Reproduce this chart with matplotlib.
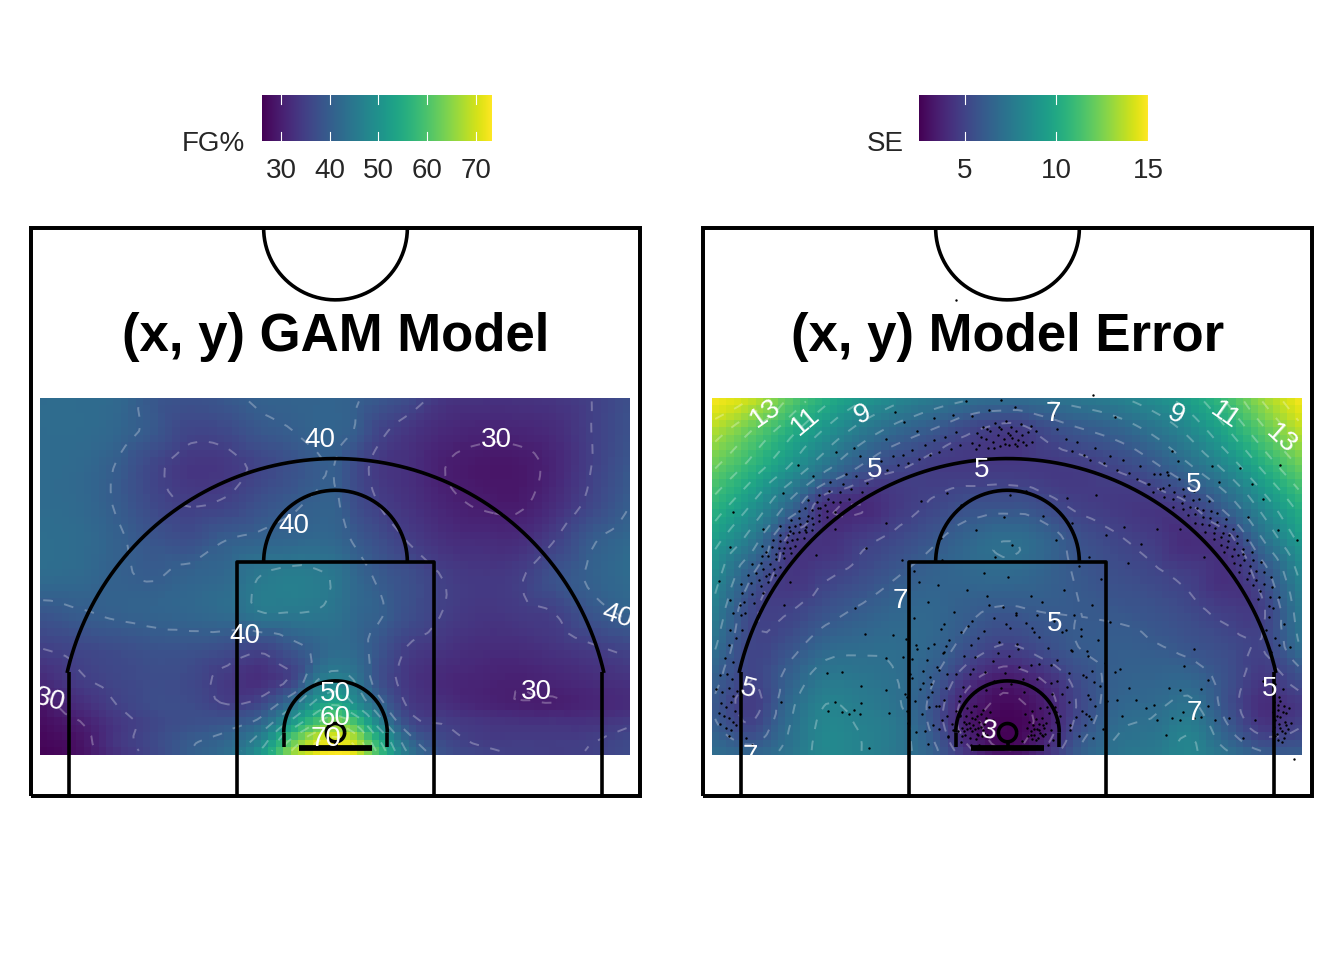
import matplotlib
matplotlib.use("Agg")
import matplotlib.pyplot as plt
import matplotlib.tri as mtri
import numpy as np

plt.rcParams['font.family'] = ['Liberation Sans', 'DejaVu Sans']

# grid nodes (feet, hoop at x = 0)
x_nodes = [-24.3, -21, -18, -15, -12, -9, -6, -3.5, -1.5, 0, 1.5, 3.5, 6, 9, 12, 15, 18, 21, 24.2]
y_nodes = [3.4, 4.5, 6, 7.5, 9.5, 12, 15, 18, 21, 24, 27, 30, 32.7]

# rows run from the baseline up
fg_pct = [
    [26.2, 28.0, 32.5, 36.0, 40.0, 43.0, 52.0, 67.0, 72.0, 73.3, 72.0, 60.0, 45.0, 38.0, 36.0, 35.0, 34.5, 35.2, 37.0],
    [26.8, 28.5, 33.5, 36.5, 39.5, 41.5, 48.0, 62.0, 70.0, 71.5, 69.0, 56.0, 42.0, 36.5, 34.5, 34.5, 34.5, 34.9, 36.5],
    [27.5, 29.8, 33.5, 36.0, 37.5, 38.5, 42.0, 52.0, 60.0, 64.0, 60.0, 48.0, 37.0, 34.8, 33.5, 33.0, 33.0, 33.0, 34.5],
    [28.5, 32.0, 35.0, 37.0, 37.0, 35.0, 37.0, 44.0, 52.0, 55.0, 50.0, 42.0, 34.5, 32.5, 31.0, 30.2, 30.0, 31.0, 32.0],
    [31.5, 34.5, 36.0, 37.0, 36.5, 34.0, 32.5, 36.0, 45.0, 47.0, 45.0, 38.0, 33.5, 31.5, 30.8, 30.3, 31.0, 32.0, 33.0],
    [34.8, 36.0, 37.0, 38.0, 38.0, 37.0, 35.5, 38.5, 41.0, 42.5, 42.0, 38.5, 34.6, 33.0, 32.0, 32.0, 33.0, 34.3, 35.8],
    [38.5, 39.7, 40.5, 41.0, 41.5, 42.5, 45.0, 45.0, 44.8, 44.0, 42.0, 40.5, 37.5, 34.8, 33.5, 34.0, 35.0, 38.5, 40.8],
    [42.5, 42.0, 40.5, 39.8, 41.0, 42.0, 45.2, 46.0, 45.5, 44.5, 42.0, 39.5, 37.5, 34.8, 33.8, 34.6, 38.0, 40.5, 42.5],
    [43.0, 42.5, 40.6, 38.5, 37.5, 40.0, 41.0, 41.5, 42.0, 41.5, 39.7, 37.5, 34.8, 32.5, 32.0, 32.0, 35.0, 39.5, 42.0],
    [42.5, 42.0, 39.7, 36.5, 34.8, 35.5, 38.0, 39.5, 40.5, 40.5, 37.5, 35.0, 33.0, 30.8, 29.7, 29.5, 32.0, 36.0, 40.0],
    [42.5, 42.0, 39.8, 36.0, 33.5, 33.8, 36.0, 38.0, 39.5, 40.0, 37.0, 34.0, 32.5, 30.0, 29.0, 29.0, 31.0, 35.0, 39.0],
    [42.5, 42.5, 41.5, 39.0, 36.0, 36.5, 39.0, 40.0, 41.0, 41.0, 40.0, 36.0, 33.5, 31.5, 30.8, 31.0, 32.0, 35.0, 38.0],
    [42.5, 42.5, 42.0, 39.0, 38.0, 39.0, 40.8, 41.0, 41.0, 41.0, 40.5, 39.0, 37.0, 33.5, 33.0, 33.0, 33.5, 35.0, 37.5],
]

se_vals = [
    [7.0, 6.6, 7.3, 8.3, 8.0, 7.4, 6.3, 4.6, 3.5, 3.2, 3.5, 4.6, 6.3, 7.3, 7.6, 8.2, 7.2, 6.2, 6.2],
    [6.7, 5.8, 7.1, 8.3, 8.0, 7.4, 6.0, 4.0, 3.0, 2.6, 3.0, 4.0, 5.9, 7.1, 7.4, 8.1, 6.6, 5.3, 5.5],
    [6.2, 5.0, 6.9, 8.2, 7.9, 7.4, 5.6, 3.5, 2.8, 2.6, 2.8, 3.6, 5.4, 6.8, 7.1, 7.7, 6.0, 4.4, 4.9],
    [6.0, 4.7, 6.7, 8.0, 7.7, 7.1, 5.6, 3.7, 3.0, 2.8, 3.0, 3.7, 5.2, 6.5, 6.8, 7.2, 5.6, 4.1, 4.6],
    [6.4, 5.0, 6.3, 7.5, 7.4, 7.0, 6.0, 4.4, 3.6, 3.3, 3.6, 4.2, 5.4, 6.3, 6.5, 6.6, 5.6, 4.5, 5.5],
    [7.2, 5.1, 5.7, 6.7, 6.9, 6.9, 6.5, 5.6, 5.0, 4.8, 5.0, 5.5, 6.0, 6.2, 6.1, 5.8, 5.4, 5.0, 7.0],
    [7.9, 5.2, 5.0, 5.7, 6.2, 6.6, 6.6, 6.2, 5.9, 5.8, 5.9, 6.0, 6.0, 5.9, 5.7, 5.3, 4.8, 4.9, 7.6],
    [8.6, 6.0, 4.5, 4.9, 5.4, 6.0, 6.4, 6.6, 6.7, 6.7, 6.6, 6.3, 5.9, 5.5, 5.2, 4.8, 4.2, 5.5, 8.3],
    [9.5, 7.5, 4.8, 4.3, 4.8, 5.3, 5.9, 6.5, 6.9, 7.0, 6.9, 6.4, 5.6, 5.1, 4.7, 4.1, 4.6, 7.0, 9.4],
    [10.8, 9.0, 6.9, 4.4, 4.0, 4.6, 5.1, 5.5, 5.6, 5.6, 5.6, 5.2, 4.8, 4.6, 4.5, 5.0, 6.5, 8.5, 10.6],
    [12.2, 10.6, 9.0, 7.3, 5.9, 5.1, 4.7, 4.6, 4.6, 4.6, 4.6, 4.6, 4.7, 5.1, 5.8, 6.9, 8.3, 10.2, 12.2],
    [13.6, 12.0, 10.4, 8.9, 7.6, 6.6, 5.9, 5.2, 4.8, 4.6, 4.8, 5.4, 5.9, 6.4, 7.2, 8.3, 9.9, 11.8, 13.8],
    [15.0, 14.0, 12.0, 10.4, 9.2, 8.3, 7.6, 7.2, 7.0, 7.0, 7.0, 7.2, 7.5, 7.9, 8.6, 9.6, 11.2, 13.2, 15.0],
]

fg_ticks = [30, 40, 50, 60, 70]
fg_range = [26.1, 73.3]
se_ticks = [5, 10, 15]
se_range = [2.5, 15.0]
fg_levels = [30, 35, 40, 45, 50, 55, 60, 65, 70]
se_levels = [3, 4, 5, 6, 7, 8, 9, 10, 11, 12, 13, 14]

# contour labels: text, x, y, rotation
fg_labels = [
    ("40", -1.3, 29.2, 0), ("30", 13.2, 29.2, 0), ("40", -3.4, 22.2, 0), ("40", -7.4, 13.1, 0),
    ("40", 23.1, 14.8, -18), ("30", 16.5, 8.5, 0), ("30", -23.5, 7.9, -15),
    ("50", 0, 8.4, 0), ("60", 0, 6.4, 0), ("70", -0.8, 4.7, 0),
]
se_labels = [
    ("13", -19.9, 31.4, 35), ("11", -16.6, 30.8, 40), ("9", -11.9, 31.3, 25), ("7", 3.8, 31.4, 0),
    ("9", 13.8, 31.3, -25), ("11", 17.8, 31.2, -35), ("13", 22.5, 29.3, -42),
    ("5", -10.9, 26.8, 0), ("5", -2.1, 26.8, 0), ("5", 15.3, 25.5, 0), ("7", -8.8, 16.0, 0),
    ("5", 3.9, 14.1, 0), ("5", -21.3, 8.8, -15), ("5", 21.5, 8.8, 0), ("7", 15.3, 6.8, 0),
    ("3", -1.5, 5.3, -10), ("7", -21.1, 3.2, 0),
]

# made shots in the right panel, by zone
# wings and the cloud round the rim as (distance from hoop, angle in degrees)
wing_left = [(23.6, 119.2), (24.5, 120.4), (23.2, 121.1), (25.1, 121.9), (23.9, 122.6), (24.6, 123.4), (23.3, 124.0), (24.2, 124.7), (25.3, 125.1), (23.5, 125.8),
    (24.7, 126.3), (23.8, 126.9), (24.3, 127.4), (23.1, 127.8), (25.0, 128.2), (24.0, 128.6), (23.5, 129.0), (24.6, 129.4), (23.2, 129.8), (24.2, 130.1),
    (25.2, 130.5), (23.7, 130.8), (24.4, 131.2), (23.3, 131.5), (24.9, 131.8), (23.9, 132.1), (24.3, 132.5), (23.5, 132.8), (25.1, 133.1), (24.0, 133.4),
    (23.2, 133.7), (24.6, 134.0), (23.7, 134.3), (24.2, 134.7), (23.4, 135.0), (25.0, 135.3), (24.4, 135.6), (23.8, 135.9), (23.2, 136.2), (24.7, 136.5),
    (24.1, 136.9), (23.5, 137.2), (25.3, 137.5), (24.3, 137.8), (23.8, 138.1), (23.3, 138.5), (24.8, 138.8), (24.0, 139.1), (23.5, 139.5), (24.5, 139.8),
    (23.2, 140.1), (25.0, 140.5), (24.2, 140.8), (23.7, 141.1), (24.7, 141.5), (23.4, 141.8), (24.1, 142.2), (25.4, 142.6), (23.8, 142.9), (24.5, 143.3),
    (23.2, 143.7), (24.9, 144.0), (24.0, 144.4), (23.5, 144.8), (24.6, 145.2), (23.1, 145.6), (24.2, 146.0), (25.2, 146.4), (23.7, 146.8), (24.5, 147.3),
    (23.3, 147.7), (24.0, 148.2), (25.0, 148.6), (23.6, 149.1), (24.4, 149.6), (23.2, 150.1), (25.1, 150.7), (23.9, 151.3), (24.7, 152.0), (23.4, 152.7),
    (24.2, 153.5), (25.3, 154.3), (23.7, 155.2), (24.6, 156.2), (24.1, 129.7), (23.6, 134.9), (24.4, 137.0), (23.9, 140.3), (24.8, 143.0), (23.6, 146.2),
    (26.5, 127.0), (27.0, 133.0), (26.2, 140.0), (27.5, 146.0), (26.8, 152.0), (22.0, 130.0), (21.5, 137.0), (21.8, 145.0), (21.2, 150.0), (28.0, 128.0), (29.0, 141.0)]
wing_right = [(23.6, 60.5), (24.7, 59.6), (23.2, 58.9), (25.0, 58.2), (23.9, 57.6), (24.4, 57.0), (23.3, 56.5), (25.2, 56.0), (24.1, 55.4), (23.6, 54.9),
    (24.7, 54.4), (23.1, 53.9), (24.3, 53.4), (23.8, 52.9), (25.1, 52.5), (23.4, 52.0), (24.5, 51.6), (23.9, 51.2), (24.9, 50.8), (23.3, 50.4),
    (24.2, 50.0), (23.7, 49.6), (25.3, 49.2), (24.4, 48.8), (23.2, 48.4), (24.0, 48.0), (24.8, 47.6), (23.5, 47.2), (24.3, 46.8), (25.0, 46.4),
    (23.8, 46.1), (23.2, 45.7), (24.5, 45.3), (24.0, 44.9), (25.2, 44.5), (23.6, 44.2), (24.7, 43.8), (23.3, 43.4), (24.2, 43.0), (23.8, 42.7),
    (25.0, 42.3), (24.4, 41.9), (23.4, 41.5), (24.1, 41.2), (24.9, 40.8), (23.7, 40.4), (23.2, 40.0), (24.5, 39.7), (24.0, 39.3), (25.3, 38.9),
    (23.5, 38.5), (24.6, 38.2), (23.9, 37.8), (24.3, 37.4), (23.3, 37.0), (25.0, 36.6), (24.1, 36.3), (23.6, 35.9), (24.7, 35.4), (23.2, 35.0),
    (24.2, 34.6), (25.1, 34.1), (23.8, 33.7), (24.4, 33.2), (23.4, 32.8), (24.9, 32.3), (24.0, 31.8), (23.6, 31.3), (25.2, 30.8), (24.4, 30.2),
    (23.8, 29.6), (24.8, 29.0), (23.4, 28.3), (24.3, 27.6), (25.0, 26.8), (23.9, 26.0), (26.4, 58.0), (27.0, 50.0), (26.6, 42.0), (27.8, 37.0), (22.0, 50.0), (21.7, 42.0)]
rim_cloud = [(5.2, 8), (6.6, 14), (4.6, 19), (7.4, 23), (5.7, 27), (8.3, 31), (3.9, 34), (6.2, 38), (4.9, 42), (7.1, 45), (5.5, 49), (8.6, 52), (4.3, 55), (6.7, 58),
    (5.1, 62), (7.8, 65), (3.7, 68), (6.0, 71), (4.7, 74), (8.9, 77), (5.6, 80), (7.0, 83), (4.1, 86), (6.4, 89), (5.0, 92), (7.6, 95), (3.8, 98), (6.1, 101),
    (4.5, 104), (8.2, 107), (5.4, 110), (6.9, 113), (4.0, 116), (7.3, 119), (5.8, 122), (8.8, 125), (4.4, 128), (6.5, 131), (5.3, 134), (7.7, 137), (3.6, 140),
    (6.3, 143), (4.8, 146), (8.1, 149), (5.9, 152), (7.2, 155), (4.2, 158), (6.8, 161), (5.2, 164), (8.5, 167), (4.6, 170), (6.2, 173), (5.6, 176), (7.5, 179),
    (4.9, 183), (6.6, 187), (7.0, 10), (4.4, 24), (8.0, 36), (5.9, 47), (7.3, 56), (6.3, 66), (8.4, 72), (7.4, 84), (9.0, 91), (6.7, 97), (8.7, 103), (7.9, 112),
    (6.0, 118), (8.5, 128), (7.0, 135), (5.0, 141), (7.5, 147), (6.1, 158), (8.8, 160), (4.5, 176), (5.5, 36), (9.2, 44), (9.5, 62), (9.8, 86), (9.4, 110),
    (9.6, 133), (9.1, 150), (9.9, 170), (10.2, 30), (10.5, 55), (10.1, 76), (10.7, 98), (10.4, 120), (10.0, 142), (10.6, 160), (10.9, 15)]

arc_top_left = [(-10.4, 27.5), (-9.9, 26.8), (-9.4, 27.9), (-9.0, 27.2), (-8.6, 28.0), (-8.2, 27.3), (-7.8, 28.4), (-7.3, 27.7), (-6.8, 28.8), (-6.4, 28.0),
    (-6.0, 29.2), (-5.6, 28.2), (-5.1, 29.5), (-4.6, 28.5), (-4.2, 29.9), (-3.9, 28.8), (-7.4, 30.0), (-10.0, 29.3), (-12.1, 27.9), (-6.0, 31.0),
    (-9.2, 31.5), (-4.5, 31.3), (-8.5, 30.7), (-12.6, 28.6), (-14.1, 28.2), (-5.5, 21.2), (-7.1, 24.2), (-5.0, 24.9), (-10.0, 22.4), (-8.7, 19.4),
    (-11.6, 20.4), (-7.7, 18.5)]
arc_top = [(-2.9, 29.0), (-2.5, 29.8), (-2.3, 28.8), (-2.0, 30.3), (-1.8, 29.3), (-1.6, 28.6), (-1.4, 30.0), (-1.2, 29.1), (-1.0, 30.6), (-0.8, 29.6),
    (-0.6, 28.7), (-0.5, 30.1), (-0.3, 29.3), (-0.1, 30.8), (0.0, 29.8), (0.1, 28.8), (0.3, 30.3), (0.4, 29.4), (0.6, 28.9), (0.7, 30.0), (0.9, 29.2),
    (1.1, 30.5), (1.2, 29.6), (1.5, 28.8), (1.7, 29.9), (2.0, 29.1), (2.3, 30.0), (-1.5, 31.7), (-0.5, 32.5), (0.6, 31.9), (-2.9, 31.2), (-3.4, 32.4),
    (-2.2, 29.5), (-1.7, 30.1), (-1.1, 28.6), (-0.7, 30.3), (-0.2, 28.9), (0.2, 29.6), (0.8, 28.7), (1.3, 29.1), (1.9, 30.4), (-2.6, 28.5)]
arc_top_right = [(4.1, 30.1), (4.8, 29.3), (5.3, 28.3), (5.7, 29.1), (6.3, 28.0), (6.8, 27.6), (7.2, 28.6), (7.9, 27.3), (8.4, 27.9), (9.0, 26.8), (9.5, 27.6),
    (10.0, 26.5), (10.6, 26.0), (10.9, 27.1), (11.5, 25.6), (12.0, 26.4), (12.5, 25.2), (13.1, 26.6), (3.7, 31.3), (8.8, 31.1), (7.0, 32.9), (13.5, 28.3),
    (-4.2, 40.7), (4.9, 24.5), (7.3, 24.7), (9.6, 22.1), (6.7, 19.6), (11.0, 20.7), (5.3, 22.4), (12.3, 21.9), (9.9, 19.1), (8.1, 21.4),
    (21.5, 14.7), (21.8, 15.4), (21.2, 13.6), (22.0, 13.0), (21.6, 11.8), (22.3, 12.4), (21.9, 10.5), (22.7, 14.1), (23.2, 12.2), (23.8, 21.0), (21.0, 24.4),
    (20.1, 25.6), (22.4, 27.2), (16.8, 27.1), (19.1, 26.9)]
corner_left = [(-23.2, 11.3), (-22.9, 12.4), (-22.5, 11.0), (-23.6, 9.9), (-23.0, 10.0), (-22.6, 9.6), (-23.9, 8.8), (-23.4, 8.5), (-22.9, 8.9), (-22.5, 8.2),
    (-23.5, 7.6), (-23.1, 7.3), (-22.7, 7.7), (-22.4, 7.0), (-23.3, 6.6), (-22.9, 6.4), (-22.5, 6.1), (-23.6, 5.9), (-23.1, 5.6), (-22.7, 5.4), (-22.3, 5.8),
    (-23.7, 6.8), (-22.2, 8.6), (-22.8, 13.6), (-22.3, 13.0), (-21.9, 14.9), (-21.5, 4.8), (-21.0, 4.2), (-22.9, 4.9), (-22.0, 15.7), (-21.8, 13.6),
    (-18.6, 7.7), (-14.7, 7.0), (-14.2, 7.7), (-13.6, 6.9), (-13.0, 6.7), (-12.6, 7.1), (-12.1, 6.7), (-12.0, 7.6), (-14.8, 10.1), (-13.6, 10.2), (-12.0, 9.0),
    (-10.0, 11.3), (-11.7, 13.3), (-12.5, 15.4), (-11.4, 3.9), (-8.6, 11.4), (-9.4, 13.2), (-7.5, 12.4)]
corner_right = [(22.3, 8.1), (21.9, 7.7), (22.7, 7.4), (22.2, 7.1), (21.8, 6.9), (22.9, 6.8), (22.4, 6.5), (22.0, 6.2), (22.8, 6.1), (22.3, 5.9), (21.9, 5.7),
    (23.0, 5.5), (22.5, 5.3), (22.1, 5.1), (22.7, 4.8), (22.2, 4.6), (21.8, 5.3), (23.1, 7.2), (23.3, 6.0), (22.6, 8.8), (22.0, 9.2), (23.5, 3.0), (21.0, 9.4),
    (22.4, 7.8), (22.6, 6.9), (22.1, 6.6), (22.9, 5.8), (22.4, 5.6), (22.0, 4.9), (22.8, 5.2), (22.5, 4.4), (22.2, 7.5),
    (20.3, 6.2), (19.3, 4.8), (18.2, 6.4), (17.0, 6.2), (16.5, 7.4), (15.9, 6.5), (15.3, 6.4), (14.4, 6.9), (14.2, 6.2), (13.5, 6.4), (13.0, 5.0), (12.3, 6.2),
    (12.0, 7.5), (11.4, 7.2), (13.3, 8.9), (14.2, 8.7), (15.9, 8.8), (16.5, 9.5), (14.5, 10.7), (15.3, 12.1), (9.2, 10.4), (10.0, 8.9), (9.4, 6.6), (9.0, 7.9)]
rim_left = [(-3.9, 6.6), (-3.7, 5.6), (-3.6, 6.1), (-3.5, 5.0), (-3.4, 6.6), (-3.3, 5.5), (-3.2, 6.0), (-3.1, 4.8), (-3.0, 6.9), (-2.9, 5.3), (-2.8, 5.8), (-2.7, 6.3),
    (-2.6, 4.7), (-2.5, 5.1), (-2.4, 5.6), (-2.3, 6.1), (-2.2, 6.7), (-2.1, 4.9), (-2.0, 5.4), (-1.9, 5.9), (-1.8, 6.4), (-1.7, 5.0), (-1.6, 5.6), (-3.8, 4.4),
    (-3.3, 7.2), (-2.6, 7.4), (-2.0, 7.1), (-1.4, 6.9), (-1.2, 6.2), (-3.0, 4.2), (-2.3, 4.2), (-4.1, 5.3), (-4.2, 7.0), (-3.4, 5.9), (-2.9, 6.4), (-2.4, 5.0),
    (-3.7, 4.9), (-2.7, 5.5), (-2.2, 5.7), (-1.9, 5.2), (-3.1, 5.6), (-3.6, 5.3), (-2.5, 6.6)]
rim_right = [(1.6, 5.6), (1.7, 4.9), (1.8, 6.1), (1.9, 5.3), (2.0, 4.7), (2.1, 5.8), (2.2, 5.0), (2.3, 6.3), (2.4, 5.5), (2.5, 4.8), (2.6, 5.9), (2.7, 5.2),
    (2.8, 6.4), (2.9, 4.9), (3.0, 5.6), (3.1, 5.1), (3.2, 6.0), (1.4, 6.7), (2.0, 7.0), (2.7, 7.2), (3.4, 6.8), (3.6, 5.4), (3.7, 4.6), (1.2, 4.5), (3.3, 4.2),
    (2.4, 4.1), (3.9, 7.3), (4.0, 6.1), (2.2, 5.5), (2.6, 5.4), (1.9, 5.0), (2.9, 5.8), (2.3, 4.6), (2.8, 5.0)]
mid_range = [(-6.6, 11.2), (-6.4, 9.8), (-6.2, 8.5), (-6.0, 12.5), (-5.9, 7.4), (-5.8, 10.6), (-5.5, 13.7), (-5.4, 6.2), (-5.3, 11.7), (-4.9, 4.9), (-4.8, 12.8),
    (-4.4, 15.1), (-3.8, 13.5), (-2.9, 14.4), (-1.7, 16.4), (-1.1, 14.6), (-0.4, 15.5), (0.0, 18.0), (0.2, 13.8), (0.7, 15.0), (1.5, 14.2), (2.2, 13.5), (2.8, 15.9),
    (3.8, 14.4), (4.8, 13.6), (5.1, 5.4), (5.2, 12.0), (5.5, 14.9), (5.6, 6.5), (5.9, 4.9), (6.0, 13.1), (6.1, 7.0), (6.2, 9.9), (6.4, 5.8), (6.5, 11.9), (6.6, 8.3),
    (6.7, 6.6), (6.9, 10.3), (7.0, 4.8), (7.2, 7.4), (7.4, 12.8), (7.6, 9.0), (7.8, 5.5), (8.0, 10.9), (8.2, 7.8), (8.4, 14.3),
    (-7.2, 8.8), (-7.0, 6.7), (-6.9, 10.3), (-6.8, 5.3), (-7.4, 12.1), (-7.6, 7.8), (-7.7, 14.6), (-8.0, 10.0), (-8.2, 6.0), (-8.3, 12.9), (-8.4, 8.4), (-6.5, 15.9),
    (-3.3, 16.9), (-5.7, 17.3), (-1.9, 18.3), (1.9, 16.4), (4.6, 16.9), (6.9, 15.7), (-7.3, 17.6), (7.7, 17.8), (0.4, 20.6), (-0.3, 22.9), (0.2, 24.7), (-2.6, 21.8),
    (2.9, 23.0), (-3.8, 23.9), (4.0, 21.0), (1.5, 25.0), (-1.0, 19.6), (5.9, 18.9), (-5.4, 19.4)]

polar_shots = wing_left + wing_right + rim_cloud
flat_shots = arc_top_left + arc_top + arc_top_right + corner_left + corner_right + rim_left + rim_right + mid_range

LW = 2.6


def draw_court(ax):
    t = np.linspace(0, np.pi, 200)
    kw = dict(color='black', lw=LW, solid_capstyle='butt', clip_on=False, zorder=5)
    ax.plot([-25, 25, 25, -25, -25], [0, 0, 46.63, 46.63, 0], solid_joinstyle='miter',
            **{**kw, 'lw': LW * 1.1})
    # half court circle
    ax.plot(5.9 * np.cos(t), 46.63 - 5.9 * np.sin(t), **kw)
    # three point line
    t3 = np.linspace(np.arcsin(5.0 / 22.6), np.pi - np.arcsin(5.0 / 22.6), 200)
    ax.plot(22.6 * np.cos(t3), 5.1 + 22.6 * np.sin(t3), **kw)
    ax.plot([-21.9, -21.9], [0, 10.2], **kw)
    ax.plot([21.9, 21.9], [0, 10.2], **kw)
    # paint and free throw circle
    ax.plot([-8.1, -8.1, 8.1, 8.1], [0, 19.2, 19.2, 0], **kw)
    ax.plot(5.9 * np.cos(t), 19.2 + 5.9 * np.sin(t), **kw)
    # restricted area, backboard, hoop
    ax.plot(4.25 * np.cos(t), 5.2 + 4.25 * np.sin(t), **kw)
    ax.plot([-4.25, -4.25], [4.0, 5.2], **kw)
    ax.plot([4.25, 4.25], [4.0, 5.2], **kw)
    ax.plot([-3, 3], [3.95, 3.95], **{**kw, 'lw': LW * 1.6})
    ax.plot([0, 0], [3.95, 4.45], **kw)
    t2 = np.linspace(0, 2 * np.pi, 80)
    ax.plot(0.75 * np.cos(t2), 5.2 + 0.75 * np.sin(t2), **kw)


def draw_field(ax, vals, rng, levels, labels):
    xx, yy = np.meshgrid(x_nodes, y_nodes)
    tri = mtri.Triangulation(xx.ravel(), yy.ravel())
    interp = mtri.CubicTriInterpolator(tri, np.array(vals).ravel(), kind='geom')
    xe = np.linspace(x_nodes[0], x_nodes[-1], 81)
    ye = np.linspace(y_nodes[0], y_nodes[-1], 49)
    xc = (xe[:-1] + xe[1:]) / 2
    yc = (ye[:-1] + ye[1:]) / 2
    gx, gy = np.meshgrid(xc, yc)
    z = np.ma.filled(interp(gx, gy), np.nan)
    ax.pcolormesh(xe, ye, z, cmap='viridis', vmin=rng[0], vmax=rng[1], shading='flat', zorder=1)
    ax.contour(xc, yc, z, levels=levels, colors='white', alpha=0.28, linewidths=1.4,
               linestyles=[(0, (5, 6))], zorder=2)
    for txt, lx, ly, rot in labels:
        ax.text(lx, ly, txt, color='white', fontsize=20, ha='center', va='center',
                rotation=rot, rotation_mode='anchor', zorder=7)


def draw_bar(fig, box, rng, ticks, name, name_x):
    cax = fig.add_axes([box[0] / 1344, 1 - box[3] / 960, (box[1] - box[0]) / 1344, (box[3] - box[2]) / 960])
    cax.imshow(np.linspace(rng[0], rng[1], 256).reshape(1, -1), aspect='auto', cmap='viridis',
               extent=[rng[0], rng[1], 0, 1])
    for v in ticks:
        cax.plot([v, v], [0, 0.2], color='white', lw=0.8)
        cax.plot([v, v], [0.8, 1], color='white', lw=0.8)
    cax.set_xlim(rng)
    cax.set_ylim(0, 1)
    cax.set_yticks([])
    cax.set_xticks(ticks)
    cax.set_xticklabels([str(v) for v in ticks], fontsize=20, color='#262626')
    cax.tick_params(axis='x', length=0, pad=12)
    for s in cax.spines.values():
        s.set_visible(False)
    fig.text(name_x / 1344, 1 - 144 / 960, name, fontsize=20, color='#262626', ha='right', va='center')


fig = plt.figure(figsize=(13.44, 9.6), dpi=100)
ax1 = fig.add_axes([31 / 1344, 1 - 796 / 960, 609 / 1344, 568 / 960])
ax2 = fig.add_axes([703 / 1344, 1 - 796 / 960, 609 / 1344, 568 / 960])
for ax in (ax1, ax2):
    ax.set_xlim(-25, 25)
    ax.set_ylim(0, 46.63)
    ax.axis('off')

draw_field(ax1, fg_pct, fg_range, fg_levels, fg_labels)
draw_field(ax2, se_vals, se_range, se_levels, se_labels)

dist = np.array([p[0] for p in polar_shots])
ang = np.radians([p[1] for p in polar_shots])
shots_x = list(dist * np.cos(ang)) + [p[0] for p in flat_shots]
shots_y = list(5.1 + dist * np.sin(ang)) + [p[1] for p in flat_shots]
ax2.scatter(shots_x, shots_y, s=3, color='black', linewidths=0, zorder=3, clip_on=False)

draw_court(ax1)
draw_court(ax2)
ax1.text(0, 37.7, "(x, y) GAM Model", fontsize=38, fontweight='bold', ha='center', va='center')
ax2.text(0, 37.7, "(x, y) Model Error", fontsize=38, fontweight='bold', ha='center', va='center')

draw_bar(fig, (262, 492, 95, 141), fg_range, fg_ticks, "FG%", 245)
draw_bar(fig, (919, 1148, 95, 141), se_range, se_ticks, "SE", 904)

plt.savefig("out.png", dpi=100)
